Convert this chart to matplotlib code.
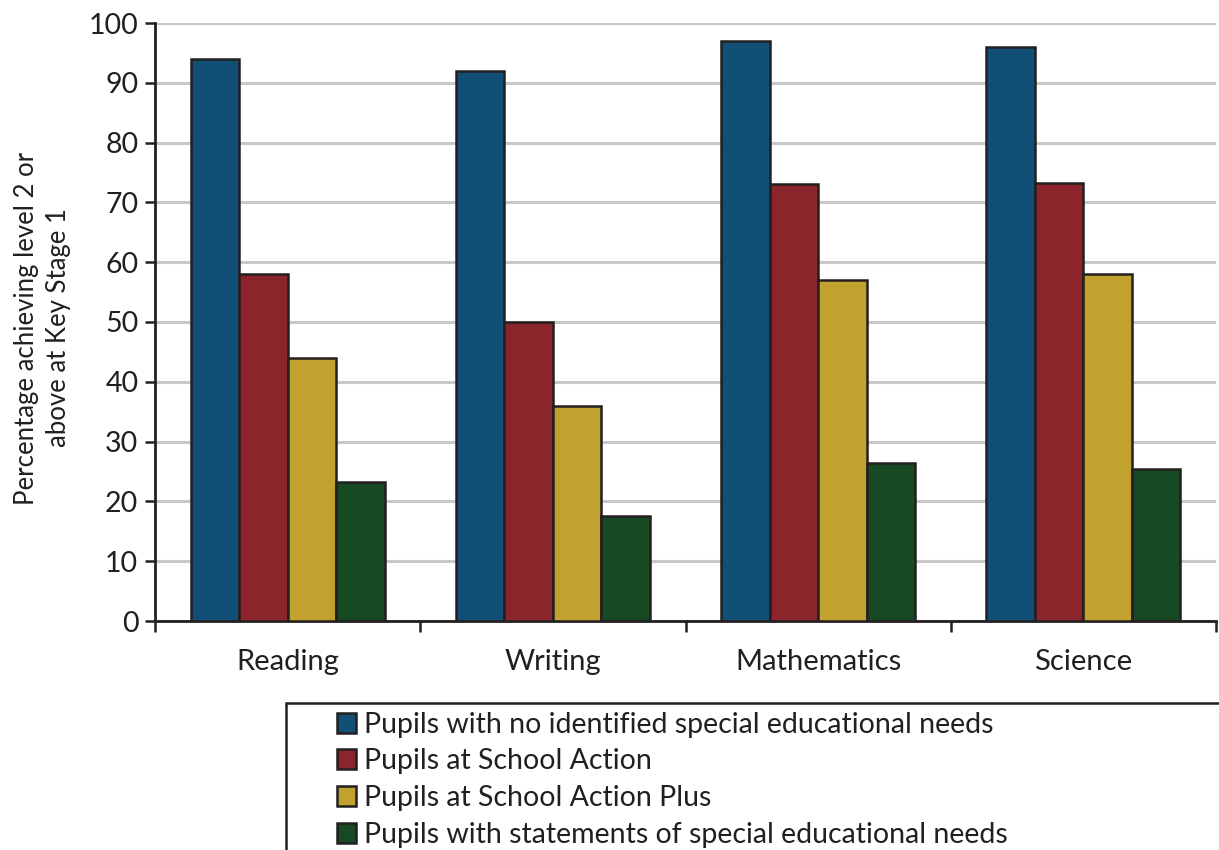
import matplotlib
matplotlib.use('Agg')
import matplotlib.pyplot as plt
import matplotlib.patches as mpatches
import numpy as np

plt.rcParams['font.family'] = ['Lato', 'DejaVu Sans']

subjects = ['Reading', 'Writing', 'Mathematics', 'Science']
groups = ['Pupils with no identified special educational needs',
          'Pupils at School Action',
          'Pupils at School Action Plus',
          'Pupils with statements of special educational needs']
no_sen = [94, 92, 97, 96]
school_action = [58, 50, 73, 73.3]
school_action_plus = [44, 36, 57, 58]
statements = [23.3, 17.5, 26.5, 25.5]
colors = ['#114F76', '#8B252B', '#C2A22F', '#174A22']

series = [no_sen, school_action, school_action_plus, statements]

fig = plt.figure(figsize=(12.19, 8.5), dpi=100)
ax = fig.add_axes([155/1219, 1 - 621/850, (1216 - 155)/1219, (621 - 23)/850])

x = np.arange(len(subjects))
width = 0.183  # bar width
for i, (vals, col, lab) in enumerate(zip(series, colors, groups)):
    ax.bar(x + (i - 1.5) * width, vals, width, color=col, edgecolor='#231F20',
           linewidth=1.8, label=lab, zorder=3)

ax.set_xlim(-0.5, 3.5)
ax.set_ylim(0, 100)
ax.set_yticks(np.arange(0, 101, 10))
ax.yaxis.grid(True, color='#C8C8C8', linewidth=2.2, zorder=0)
ax.set_axisbelow(True)

# major ticks at group boundaries, labels on minor ticks at centres
ax.set_xticks(np.arange(-0.5, 4, 1))
ax.set_xticklabels([])
ax.set_xticks(x, minor=True)
ax.set_xticklabels(subjects, minor=True)
ax.tick_params(axis='x', which='minor', length=0, pad=20, labelsize=21, labelcolor='#231F20')
ax.tick_params(axis='x', which='major', length=8, width=1.8, color='#231F20', direction='out')
ax.tick_params(axis='y', length=7, width=1.8, color='#231F20', labelsize=20.5,
               labelcolor='#231F20', pad=5)

for s in ['top', 'right']:
    ax.spines[s].set_visible(False)
for s in ['left', 'bottom']:
    ax.spines[s].set_linewidth(2)
    ax.spines[s].set_color('#231F20')

ax.set_ylabel('Percentage achieving level 2 or\nabove at Key Stage 1', fontsize=18.5,
              color='#231F20', linespacing=1.35)
ax.yaxis.set_label_coords(-0.079, 0.49)

# legend with a frame running off the figure edge
fig.patches.append(mpatches.Rectangle((286/1219, -0.05), 1.0, 0.05 + 1 - 703/850,
                                      transform=fig.transFigure, fill=False,
                                      edgecolor='#231F20', linewidth=1.8))
leg = fig.legend(loc='upper left', bbox_to_anchor=(318/1219, 1 - 693/850), frameon=False,
                 fontsize=20.5, handlelength=0.7, handleheight=0.7, handletextpad=0.25,
                 labelspacing=0.38, borderpad=0.15, labelcolor='#231F20')

fig.savefig('out.png', dpi=100)
